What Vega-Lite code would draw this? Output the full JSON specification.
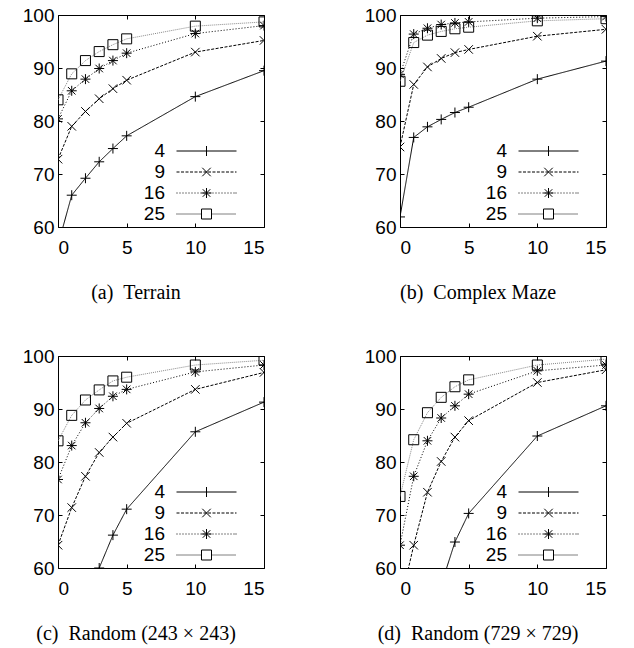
{
  "$schema": "https://vega.github.io/schema/vega-lite/v6.json",
  "padding": {"left": 21, "top": 5, "right": 0, "bottom": 0},
  "background": "white",
  "bounds": "flush",
  "columns": 2,
  "spacing": {"row": 129, "column": 136},
  "datasets": {
    "a": [
      {"series": "4", "x": 0, "y": 56.6}, {"series": "4", "x": 1, "y": 66.0}, {"series": "4", "x": 2, "y": 69.2}, {"series": "4", "x": 3, "y": 72.3}, {"series": "4", "x": 4, "y": 74.8}, {"series": "4", "x": 5, "y": 77.2}, {"series": "4", "x": 10, "y": 84.6}, {"series": "4", "x": 15, "y": 89.5},
      {"series": "9", "x": 0, "y": 72.8}, {"series": "9", "x": 1, "y": 79.0}, {"series": "9", "x": 2, "y": 81.8}, {"series": "9", "x": 3, "y": 84.2}, {"series": "9", "x": 4, "y": 86.1}, {"series": "9", "x": 5, "y": 87.7}, {"series": "9", "x": 10, "y": 93.0}, {"series": "9", "x": 15, "y": 95.2},
      {"series": "16", "x": 0, "y": 80.4}, {"series": "16", "x": 1, "y": 85.7}, {"series": "16", "x": 2, "y": 87.9}, {"series": "16", "x": 3, "y": 89.9}, {"series": "16", "x": 4, "y": 91.4}, {"series": "16", "x": 5, "y": 92.8}, {"series": "16", "x": 10, "y": 96.5}, {"series": "16", "x": 15, "y": 98.0},
      {"series": "25", "x": 0, "y": 84.0}, {"series": "25", "x": 1, "y": 88.9}, {"series": "25", "x": 2, "y": 91.4}, {"series": "25", "x": 3, "y": 93.1}, {"series": "25", "x": 4, "y": 94.4}, {"series": "25", "x": 5, "y": 95.5}, {"series": "25", "x": 10, "y": 97.9}, {"series": "25", "x": 15, "y": 98.7}
    ],
    "b": [
      {"series": "4", "x": 0, "y": 61.9}, {"series": "4", "x": 1, "y": 76.9}, {"series": "4", "x": 2, "y": 78.9}, {"series": "4", "x": 3, "y": 80.3}, {"series": "4", "x": 4, "y": 81.6}, {"series": "4", "x": 5, "y": 82.6}, {"series": "4", "x": 10, "y": 87.9}, {"series": "4", "x": 15, "y": 91.3},
      {"series": "9", "x": 0, "y": 75.1}, {"series": "9", "x": 1, "y": 86.9}, {"series": "9", "x": 2, "y": 90.2}, {"series": "9", "x": 3, "y": 91.8}, {"series": "9", "x": 4, "y": 92.9}, {"series": "9", "x": 5, "y": 93.5}, {"series": "9", "x": 10, "y": 96.0}, {"series": "9", "x": 15, "y": 97.3},
      {"series": "16", "x": 0, "y": 88.8}, {"series": "16", "x": 1, "y": 96.4}, {"series": "16", "x": 2, "y": 97.5}, {"series": "16", "x": 3, "y": 98.2}, {"series": "16", "x": 4, "y": 98.5}, {"series": "16", "x": 5, "y": 98.7}, {"series": "16", "x": 10, "y": 99.4}, {"series": "16", "x": 15, "y": 99.7},
      {"series": "25", "x": 0, "y": 87.5}, {"series": "25", "x": 1, "y": 94.8}, {"series": "25", "x": 2, "y": 96.2}, {"series": "25", "x": 3, "y": 96.9}, {"series": "25", "x": 4, "y": 97.4}, {"series": "25", "x": 5, "y": 97.7}, {"series": "25", "x": 10, "y": 98.9}, {"series": "25", "x": 15, "y": 99.3}
    ],
    "c": [
      {"series": "4", "x": 3, "y": 60.0}, {"series": "4", "x": 4, "y": 66.2}, {"series": "4", "x": 5, "y": 71.1}, {"series": "4", "x": 10, "y": 85.7}, {"series": "4", "x": 15, "y": 91.3},
      {"series": "9", "x": 0, "y": 64.3}, {"series": "9", "x": 1, "y": 71.4}, {"series": "9", "x": 2, "y": 77.3}, {"series": "9", "x": 3, "y": 81.8}, {"series": "9", "x": 4, "y": 84.7}, {"series": "9", "x": 5, "y": 87.3}, {"series": "9", "x": 10, "y": 93.7}, {"series": "9", "x": 15, "y": 96.9},
      {"series": "16", "x": 0, "y": 76.7}, {"series": "16", "x": 1, "y": 83.1}, {"series": "16", "x": 2, "y": 87.4}, {"series": "16", "x": 3, "y": 90.1}, {"series": "16", "x": 4, "y": 92.4}, {"series": "16", "x": 5, "y": 93.7}, {"series": "16", "x": 10, "y": 97.0}, {"series": "16", "x": 15, "y": 98.3},
      {"series": "25", "x": 0, "y": 84.0}, {"series": "25", "x": 1, "y": 88.8}, {"series": "25", "x": 2, "y": 91.7}, {"series": "25", "x": 3, "y": 93.6}, {"series": "25", "x": 4, "y": 95.3}, {"series": "25", "x": 5, "y": 96.0}, {"series": "25", "x": 10, "y": 98.3}, {"series": "25", "x": 15, "y": 99.2}
    ],
    "d": [
      {"series": "4", "x": 3, "y": 56.8}, {"series": "4", "x": 4, "y": 64.9}, {"series": "4", "x": 5, "y": 70.3}, {"series": "4", "x": 10, "y": 84.9}, {"series": "4", "x": 15, "y": 90.6},
      {"series": "9", "x": 0, "y": 53.0}, {"series": "9", "x": 1, "y": 64.3}, {"series": "9", "x": 2, "y": 74.3}, {"series": "9", "x": 3, "y": 80.1}, {"series": "9", "x": 4, "y": 84.7}, {"series": "9", "x": 5, "y": 87.8}, {"series": "9", "x": 10, "y": 95.0}, {"series": "9", "x": 15, "y": 97.4},
      {"series": "16", "x": 0, "y": 64.3}, {"series": "16", "x": 1, "y": 77.3}, {"series": "16", "x": 2, "y": 84.0}, {"series": "16", "x": 3, "y": 88.3}, {"series": "16", "x": 4, "y": 90.6}, {"series": "16", "x": 5, "y": 92.8}, {"series": "16", "x": 10, "y": 97.2}, {"series": "16", "x": 15, "y": 98.3},
      {"series": "25", "x": 0, "y": 73.5}, {"series": "25", "x": 1, "y": 84.2}, {"series": "25", "x": 2, "y": 89.3}, {"series": "25", "x": 3, "y": 92.2}, {"series": "25", "x": 4, "y": 94.2}, {"series": "25", "x": 5, "y": 95.5}, {"series": "25", "x": 10, "y": 98.3}, {"series": "25", "x": 15, "y": 99.4}
    ]
  },
  "concat": [
    {
      "width": 206, "height": 212,
      "data": {"name": "a"},
      "title": {"text": "(a)\u2002Terrain", "orient": "bottom", "offset": 26, "dx": -25, "font": "Liberation Serif", "fontSize": 20, "fontWeight": "normal", "color": "black"},
      "layer": [
        {
          "mark": {"type": "line", "clip": true, "strokeWidth": 1},
          "encoding": {
            "x": {"field": "x", "type": "quantitative", "scale": {"domain": [0, 15], "nice": false}, "axis": {"orient": "bottom", "values": [0, 5, 10, 15]}},
            "y": {"field": "y", "type": "quantitative", "scale": {"domain": [60, 100], "nice": false, "zero": false}, "axis": {"orient": "left", "values": [60, 70, 80, 90, 100]}},
            "color": {"field": "series", "type": "nominal", "scale": {"range": ["black", "#888888", "black", "black"]}, "legend": null},
            "strokeDash": {"field": "series", "type": "nominal", "scale": {"range": [[1, 2], [1, 1], [1, 0], [3, 1.5]]}, "legend": null}
          }
        },
        {
          "mark": {"type": "point", "clip": true, "filled": false, "size": 100, "strokeWidth": 1, "color": "black"},
          "encoding": {
            "x": {"field": "x", "type": "quantitative", "axis": {"orient": "top", "labels": false, "values": [0, 5, 10, 15]}},
            "y": {"field": "y", "type": "quantitative", "axis": {"orient": "right", "labels": false, "values": [60, 70, 80, 90, 100]}},
            "shape": {"field": "series", "type": "nominal", "legend": null,
              "scale": {"range": ["M-1,0H1M0,-1V1M-0.75,-0.75L0.75,0.75M-0.75,0.75L0.75,-0.75", "M-1,-1H1V1H-1Z", "M-1,0H1M0,-1V1", "M-0.85,-0.85L0.85,0.85M-0.85,0.85L0.85,-0.85"]}},
            "opacity": {"field": "series", "type": "nominal",
              "scale": {"domain": ["4", "9", "16", "25"], "range": [1, 1, 1, 1]},
              "legend": {"orient": "none", "legendX": 139, "legendY": 126.5, "title": null, "symbolSize": 100, "symbolStrokeWidth": 1, "labelAlign": "right", "labelOffset": -51, "labelFontSize": 19, "labelFont": "Liberation Sans", "labelColor": "black", "rowPadding": 1,
                "symbolType": {"expr": "datum.value === '4' ? 'M-6,0H6M0,-1V1' : datum.value === '9' ? 'M-6,0H-5.4M-5.1,0H-4.5M-4.2,0H-3.6M-3.3,0H-2.7M-2.4,0H-1.8M-1.5,0H-0.9M-0.6,0H0M0.3,0H0.9M1.2,0H1.8M2.1,0H2.7M3,0H3.6M3.9,0H4.5M4.8,0H5.4M5.7,0H6M-0.85,-0.85L0.85,0.85M-0.85,0.85L0.85,-0.85' : datum.value === '16' ? 'M-6,0H-5.8M-5.4,0H-5.2M-4.8,0H-4.6M-4.2,0H-4M-3.6,0H-3.4M-3,0H-2.8M-2.4,0H-2.2M-1.8,0H-1.6M-1.2,0H-1M-0.6,0H-0.4M0,0H0.2M0.6,0H0.8M1.2,0H1.4M1.8,0H2M2.4,0H2.6M3,0H3.2M3.6,0H3.8M4.2,0H4.4M4.8,0H5M5.4,0H5.6M5.8,0H6M-1,0H1M0,-1V1M-0.75,-0.75L0.75,0.75M-0.75,0.75L0.75,-0.75' : 'M-6,0H-5.8M-5.6,0H-5.4M-5.2,0H-5M-4.8,0H-4.6M-4.4,0H-4.2M-4,0H-3.8M-3.6,0H-3.4M-3.2,0H-3M-2.8,0H-2.6M-2.4,0H-2.2M-2,0H-1.8M-1.6,0H-1.4M-1.2,0H-1M1.2,0H1.4M1.6,0H1.8M2,0H2.2M2.4,0H2.6M2.8,0H3M3.2,0H3.4M3.6,0H3.8M4,0H4.2M4.4,0H4.6M4.8,0H5M5.2,0H5.4M5.6,0H5.8M-1,-1H1V1H-1Z'"}
              }
            }
          }
        }
      ],
      "resolve": {"axis": {"x": "independent", "y": "independent"}}
    },
    {
      "width": 206, "height": 212,
      "data": {"name": "b"},
      "title": {"text": "(b)\u2002Complex Maze", "orient": "bottom", "offset": 26, "dx": -25, "font": "Liberation Serif", "fontSize": 20, "fontWeight": "normal", "color": "black"},
      "layer": [
        {
          "mark": {"type": "line", "clip": true, "strokeWidth": 1},
          "encoding": {
            "x": {"field": "x", "type": "quantitative", "scale": {"domain": [0, 15], "nice": false}, "axis": {"orient": "bottom", "values": [0, 5, 10, 15]}},
            "y": {"field": "y", "type": "quantitative", "scale": {"domain": [60, 100], "nice": false, "zero": false}, "axis": {"orient": "left", "values": [60, 70, 80, 90, 100]}},
            "color": {"field": "series", "type": "nominal", "scale": {"range": ["black", "#888888", "black", "black"]}, "legend": null},
            "strokeDash": {"field": "series", "type": "nominal", "scale": {"range": [[1, 2], [1, 1], [1, 0], [3, 1.5]]}, "legend": null}
          }
        },
        {
          "mark": {"type": "point", "clip": true, "filled": false, "size": 100, "strokeWidth": 1, "color": "black"},
          "encoding": {
            "x": {"field": "x", "type": "quantitative", "axis": {"orient": "top", "labels": false, "values": [0, 5, 10, 15]}},
            "y": {"field": "y", "type": "quantitative", "axis": {"orient": "right", "labels": false, "values": [60, 70, 80, 90, 100]}},
            "shape": {"field": "series", "type": "nominal", "legend": null,
              "scale": {"range": ["M-1,0H1M0,-1V1M-0.75,-0.75L0.75,0.75M-0.75,0.75L0.75,-0.75", "M-1,-1H1V1H-1Z", "M-1,0H1M0,-1V1", "M-0.85,-0.85L0.85,0.85M-0.85,0.85L0.85,-0.85"]}},
            "opacity": {"field": "series", "type": "nominal",
              "scale": {"domain": ["4", "9", "16", "25"], "range": [1, 1, 1, 1]},
              "legend": {"orient": "none", "legendX": 139, "legendY": 126.5, "title": null, "symbolSize": 100, "symbolStrokeWidth": 1, "labelAlign": "right", "labelOffset": -51, "labelFontSize": 19, "labelFont": "Liberation Sans", "labelColor": "black", "rowPadding": 1,
                "symbolType": {"expr": "datum.value === '4' ? 'M-6,0H6M0,-1V1' : datum.value === '9' ? 'M-6,0H-5.4M-5.1,0H-4.5M-4.2,0H-3.6M-3.3,0H-2.7M-2.4,0H-1.8M-1.5,0H-0.9M-0.6,0H0M0.3,0H0.9M1.2,0H1.8M2.1,0H2.7M3,0H3.6M3.9,0H4.5M4.8,0H5.4M5.7,0H6M-0.85,-0.85L0.85,0.85M-0.85,0.85L0.85,-0.85' : datum.value === '16' ? 'M-6,0H-5.8M-5.4,0H-5.2M-4.8,0H-4.6M-4.2,0H-4M-3.6,0H-3.4M-3,0H-2.8M-2.4,0H-2.2M-1.8,0H-1.6M-1.2,0H-1M-0.6,0H-0.4M0,0H0.2M0.6,0H0.8M1.2,0H1.4M1.8,0H2M2.4,0H2.6M3,0H3.2M3.6,0H3.8M4.2,0H4.4M4.8,0H5M5.4,0H5.6M5.8,0H6M-1,0H1M0,-1V1M-0.75,-0.75L0.75,0.75M-0.75,0.75L0.75,-0.75' : 'M-6,0H-5.8M-5.6,0H-5.4M-5.2,0H-5M-4.8,0H-4.6M-4.4,0H-4.2M-4,0H-3.8M-3.6,0H-3.4M-3.2,0H-3M-2.8,0H-2.6M-2.4,0H-2.2M-2,0H-1.8M-1.6,0H-1.4M-1.2,0H-1M1.2,0H1.4M1.6,0H1.8M2,0H2.2M2.4,0H2.6M2.8,0H3M3.2,0H3.4M3.6,0H3.8M4,0H4.2M4.4,0H4.6M4.8,0H5M5.2,0H5.4M5.6,0H5.8M-1,-1H1V1H-1Z'"}
              }
            }
          }
        }
      ],
      "resolve": {"axis": {"x": "independent", "y": "independent"}}
    },
    {
      "width": 206, "height": 212,
      "data": {"name": "c"},
      "title": {"text": "(c)\u2002Random (243 × 243)", "orient": "bottom", "offset": 26, "dx": -25, "font": "Liberation Serif", "fontSize": 20, "fontWeight": "normal", "color": "black"},
      "layer": [
        {
          "mark": {"type": "line", "clip": true, "strokeWidth": 1},
          "encoding": {
            "x": {"field": "x", "type": "quantitative", "scale": {"domain": [0, 15], "nice": false}, "axis": {"orient": "bottom", "values": [0, 5, 10, 15]}},
            "y": {"field": "y", "type": "quantitative", "scale": {"domain": [60, 100], "nice": false, "zero": false}, "axis": {"orient": "left", "values": [60, 70, 80, 90, 100]}},
            "color": {"field": "series", "type": "nominal", "scale": {"range": ["black", "#888888", "black", "black"]}, "legend": null},
            "strokeDash": {"field": "series", "type": "nominal", "scale": {"range": [[1, 2], [1, 1], [1, 0], [3, 1.5]]}, "legend": null}
          }
        },
        {
          "mark": {"type": "point", "clip": true, "filled": false, "size": 100, "strokeWidth": 1, "color": "black"},
          "encoding": {
            "x": {"field": "x", "type": "quantitative", "axis": {"orient": "top", "labels": false, "values": [0, 5, 10, 15]}},
            "y": {"field": "y", "type": "quantitative", "axis": {"orient": "right", "labels": false, "values": [60, 70, 80, 90, 100]}},
            "shape": {"field": "series", "type": "nominal", "legend": null,
              "scale": {"range": ["M-1,0H1M0,-1V1M-0.75,-0.75L0.75,0.75M-0.75,0.75L0.75,-0.75", "M-1,-1H1V1H-1Z", "M-1,0H1M0,-1V1", "M-0.85,-0.85L0.85,0.85M-0.85,0.85L0.85,-0.85"]}},
            "opacity": {"field": "series", "type": "nominal",
              "scale": {"domain": ["4", "9", "16", "25"], "range": [1, 1, 1, 1]},
              "legend": {"orient": "none", "legendX": 139, "legendY": 126.5, "title": null, "symbolSize": 100, "symbolStrokeWidth": 1, "labelAlign": "right", "labelOffset": -51, "labelFontSize": 19, "labelFont": "Liberation Sans", "labelColor": "black", "rowPadding": 1,
                "symbolType": {"expr": "datum.value === '4' ? 'M-6,0H6M0,-1V1' : datum.value === '9' ? 'M-6,0H-5.4M-5.1,0H-4.5M-4.2,0H-3.6M-3.3,0H-2.7M-2.4,0H-1.8M-1.5,0H-0.9M-0.6,0H0M0.3,0H0.9M1.2,0H1.8M2.1,0H2.7M3,0H3.6M3.9,0H4.5M4.8,0H5.4M5.7,0H6M-0.85,-0.85L0.85,0.85M-0.85,0.85L0.85,-0.85' : datum.value === '16' ? 'M-6,0H-5.8M-5.4,0H-5.2M-4.8,0H-4.6M-4.2,0H-4M-3.6,0H-3.4M-3,0H-2.8M-2.4,0H-2.2M-1.8,0H-1.6M-1.2,0H-1M-0.6,0H-0.4M0,0H0.2M0.6,0H0.8M1.2,0H1.4M1.8,0H2M2.4,0H2.6M3,0H3.2M3.6,0H3.8M4.2,0H4.4M4.8,0H5M5.4,0H5.6M5.8,0H6M-1,0H1M0,-1V1M-0.75,-0.75L0.75,0.75M-0.75,0.75L0.75,-0.75' : 'M-6,0H-5.8M-5.6,0H-5.4M-5.2,0H-5M-4.8,0H-4.6M-4.4,0H-4.2M-4,0H-3.8M-3.6,0H-3.4M-3.2,0H-3M-2.8,0H-2.6M-2.4,0H-2.2M-2,0H-1.8M-1.6,0H-1.4M-1.2,0H-1M1.2,0H1.4M1.6,0H1.8M2,0H2.2M2.4,0H2.6M2.8,0H3M3.2,0H3.4M3.6,0H3.8M4,0H4.2M4.4,0H4.6M4.8,0H5M5.2,0H5.4M5.6,0H5.8M-1,-1H1V1H-1Z'"}
              }
            }
          }
        }
      ],
      "resolve": {"axis": {"x": "independent", "y": "independent"}}
    },
    {
      "width": 206, "height": 212,
      "data": {"name": "d"},
      "title": {"text": "(d)\u2002Random (729 × 729)", "orient": "bottom", "offset": 26, "dx": -25, "font": "Liberation Serif", "fontSize": 20, "fontWeight": "normal", "color": "black"},
      "layer": [
        {
          "mark": {"type": "line", "clip": true, "strokeWidth": 1},
          "encoding": {
            "x": {"field": "x", "type": "quantitative", "scale": {"domain": [0, 15], "nice": false}, "axis": {"orient": "bottom", "values": [0, 5, 10, 15]}},
            "y": {"field": "y", "type": "quantitative", "scale": {"domain": [60, 100], "nice": false, "zero": false}, "axis": {"orient": "left", "values": [60, 70, 80, 90, 100]}},
            "color": {"field": "series", "type": "nominal", "scale": {"range": ["black", "#888888", "black", "black"]}, "legend": null},
            "strokeDash": {"field": "series", "type": "nominal", "scale": {"range": [[1, 2], [1, 1], [1, 0], [3, 1.5]]}, "legend": null}
          }
        },
        {
          "mark": {"type": "point", "clip": true, "filled": false, "size": 100, "strokeWidth": 1, "color": "black"},
          "encoding": {
            "x": {"field": "x", "type": "quantitative", "axis": {"orient": "top", "labels": false, "values": [0, 5, 10, 15]}},
            "y": {"field": "y", "type": "quantitative", "axis": {"orient": "right", "labels": false, "values": [60, 70, 80, 90, 100]}},
            "shape": {"field": "series", "type": "nominal", "legend": null,
              "scale": {"range": ["M-1,0H1M0,-1V1M-0.75,-0.75L0.75,0.75M-0.75,0.75L0.75,-0.75", "M-1,-1H1V1H-1Z", "M-1,0H1M0,-1V1", "M-0.85,-0.85L0.85,0.85M-0.85,0.85L0.85,-0.85"]}},
            "opacity": {"field": "series", "type": "nominal",
              "scale": {"domain": ["4", "9", "16", "25"], "range": [1, 1, 1, 1]},
              "legend": {"orient": "none", "legendX": 139, "legendY": 126.5, "title": null, "symbolSize": 100, "symbolStrokeWidth": 1, "labelAlign": "right", "labelOffset": -51, "labelFontSize": 19, "labelFont": "Liberation Sans", "labelColor": "black", "rowPadding": 1,
                "symbolType": {"expr": "datum.value === '4' ? 'M-6,0H6M0,-1V1' : datum.value === '9' ? 'M-6,0H-5.4M-5.1,0H-4.5M-4.2,0H-3.6M-3.3,0H-2.7M-2.4,0H-1.8M-1.5,0H-0.9M-0.6,0H0M0.3,0H0.9M1.2,0H1.8M2.1,0H2.7M3,0H3.6M3.9,0H4.5M4.8,0H5.4M5.7,0H6M-0.85,-0.85L0.85,0.85M-0.85,0.85L0.85,-0.85' : datum.value === '16' ? 'M-6,0H-5.8M-5.4,0H-5.2M-4.8,0H-4.6M-4.2,0H-4M-3.6,0H-3.4M-3,0H-2.8M-2.4,0H-2.2M-1.8,0H-1.6M-1.2,0H-1M-0.6,0H-0.4M0,0H0.2M0.6,0H0.8M1.2,0H1.4M1.8,0H2M2.4,0H2.6M3,0H3.2M3.6,0H3.8M4.2,0H4.4M4.8,0H5M5.4,0H5.6M5.8,0H6M-1,0H1M0,-1V1M-0.75,-0.75L0.75,0.75M-0.75,0.75L0.75,-0.75' : 'M-6,0H-5.8M-5.6,0H-5.4M-5.2,0H-5M-4.8,0H-4.6M-4.4,0H-4.2M-4,0H-3.8M-3.6,0H-3.4M-3.2,0H-3M-2.8,0H-2.6M-2.4,0H-2.2M-2,0H-1.8M-1.6,0H-1.4M-1.2,0H-1M1.2,0H1.4M1.6,0H1.8M2,0H2.2M2.4,0H2.6M2.8,0H3M3.2,0H3.4M3.6,0H3.8M4,0H4.2M4.4,0H4.6M4.8,0H5M5.2,0H5.4M5.6,0H5.8M-1,-1H1V1H-1Z'"}
              }
            }
          }
        }
      ],
      "resolve": {"axis": {"x": "independent", "y": "independent"}}
    }
  ],
  "resolve": {
    "scale": {"shape": "independent", "color": "independent", "strokeDash": "independent", "opacity": "independent", "x": "independent", "y": "independent"},
    "legend": {"opacity": "independent"}
  },
  "config": {
    "view": {"stroke": "black", "strokeWidth": 1},
    "font": "Liberation Sans",
    "axis": {"domain": false, "grid": false, "ticks": true, "tickSize": -4, "tickColor": "black", "tickWidth": 1, "labelFont": "Liberation Sans", "labelFontSize": 19, "labelColor": "black", "title": null},
    "axisX": {"labelPadding": 15},
    "axisY": {"labelPadding": 8}
  }
}
